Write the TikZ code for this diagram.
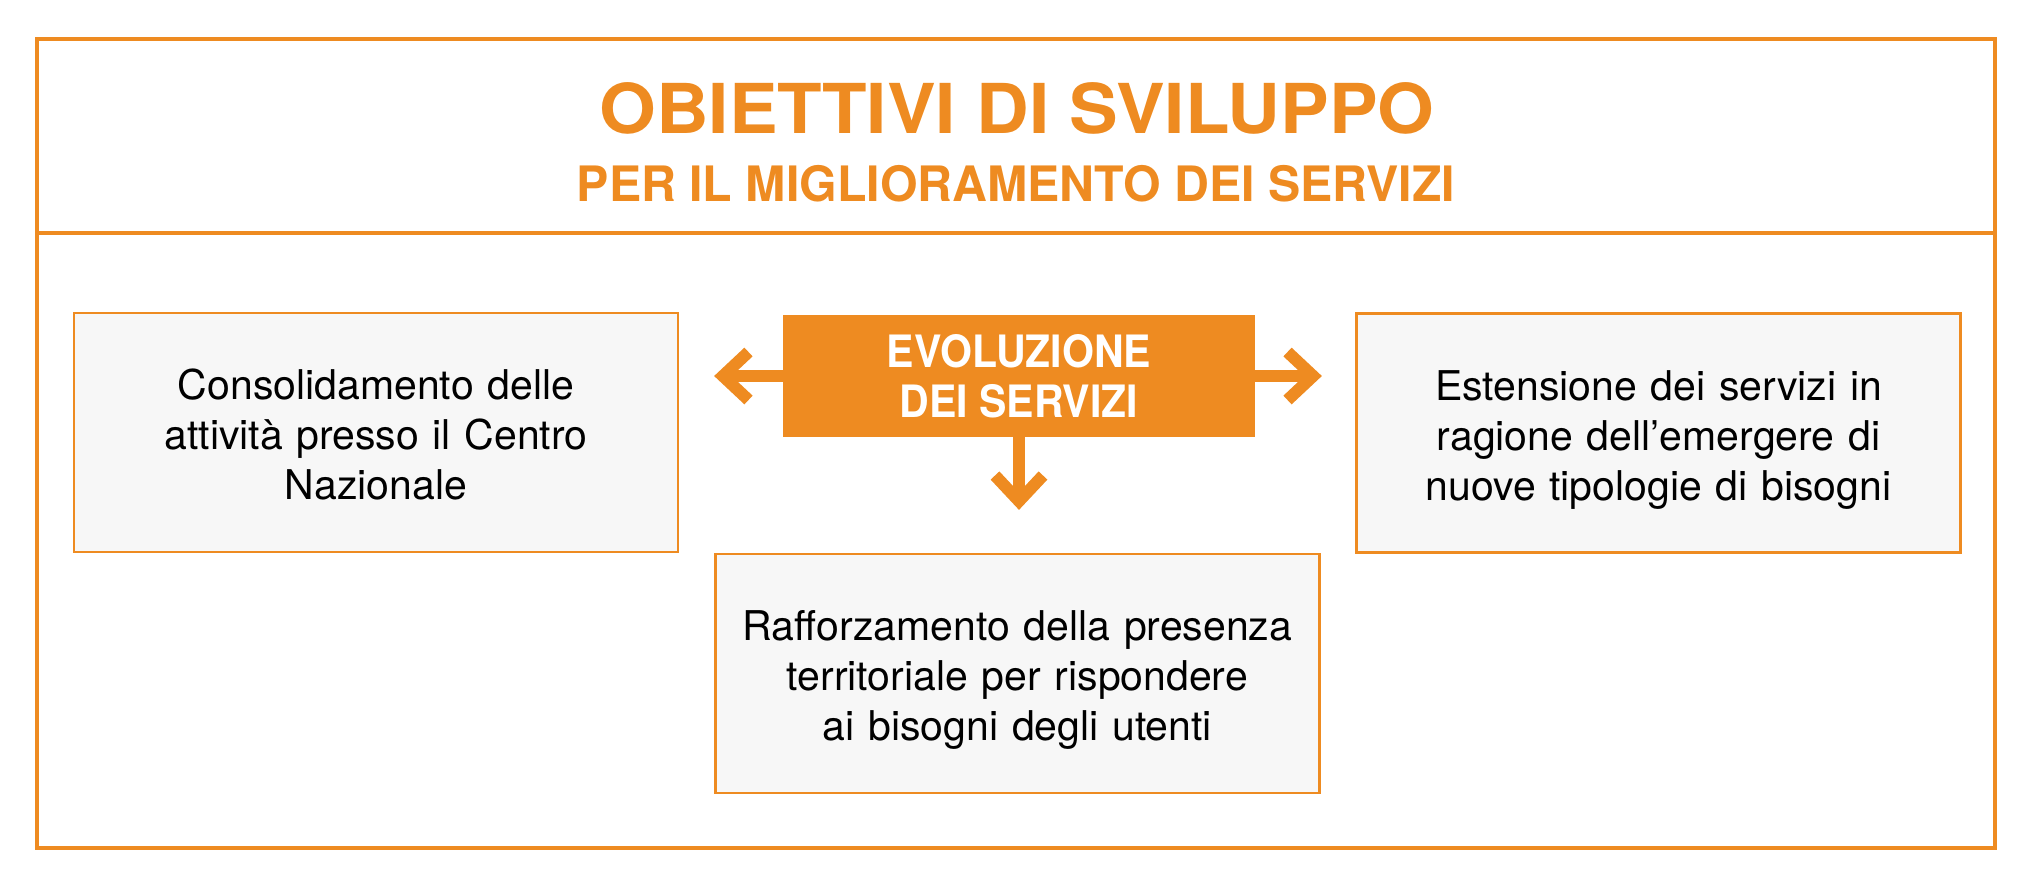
\documentclass[tikz,border=0pt]{standalone}
\usepackage{fontspec}
\setmainfont{TeX Gyre Heros}
\newfontfamily\titlefont[FakeStretch=1.06]{TeX Gyre Heros}
\newfontfamily\subfont[FakeStretch=0.99]{TeX Gyre Heros}
\newfontfamily\evofont[FakeStretch=0.92]{TeX Gyre Heros}
\definecolor{arancio}{HTML}{EE8B21}
\definecolor{grigio}{HTML}{F7F7F7}
\tikzset{
    greybox/.style={
        rectangle,
        draw=arancio, % 橙色边框
        fill=grigio, % 浅灰色填充
        line width=1.2pt,
        minimum width=302pt,
        minimum height=119.5pt,
        text width=290pt,
        align=center,
        inner sep=0,
        text height=15pt,
        text depth=48pt,
        font=\fontsize{20.5}{25}\selectfont
    },
    evobox/.style={
        rectangle,
        fill=arancio, % 橙色填充
        text=white,
        minimum width=236pt,
        minimum height=61pt,
        align=center,
        inner sep=0,
        font=\evofont\bfseries\fontsize{22.3}{25}\selectfont
    },
    shaft/.style={draw=arancio, line width=6.3pt},
    chev/.style={draw=arancio, line width=6pt, line join=miter}
}
\begin{document}
\begin{tikzpicture}[x=0.5pt, y=-0.5pt]
    \useasboundingbox (0,0) rectangle (2035,875);
    % 外框与标题
    \draw[arancio, line width=2pt] (37,38.5) rectangle (1995,848);
    \draw[arancio, line width=2pt] (37,233) -- (1995,233);
    \node[anchor=base, text=arancio, font=\titlefont\bfseries\fontsize{34.4}{40}\selectfont] (titolo) at (1017,133) {OBIETTIVI DI SVILUPPO};
    \node[anchor=base, text=arancio, font=\subfont\bfseries\fontsize{24.4}{30}\selectfont] (sottotitolo) at (1016,201.5) {PER IL MIGLIORAMENTO DEI SERVIZI};
    % 中心与三个方框
    \node[evobox] (evo) at (1019,376) {EVOLUZIONE\\DEI SERVIZI};
    \node[greybox] (cons) at (376,432.5) {Consolidamento delle\\attività presso il Centro\\Nazionale};
    \node[greybox] (est) at (1658.5,433) {Estensione dei servizi in\\ragione dell’emergere di\\nuove tipologie di bisogni};
    \node[greybox] (raff) at (1017.5,673.5) {Rafforzamento della presenza\\territoriale per rispondere\\ai bisogni degli utenti};
    % 箭头
    \coordinate (sx) at (714,376);
    \coordinate (dx) at (1322,376);
    \coordinate (giu) at (1019,510);
    \draw[shaft] (evo.west) -- ([xshift=4.5pt]sx);
    \draw[shaft] (evo.east) -- ([xshift=-4.5pt]dx);
    \draw[shaft] (evo.south) -- ([yshift=4.5pt]giu);
    \draw[chev] (sx) ++(34.5,-24) -- ++(-25.6,24) -- ++(25.6,24);
    \draw[chev] (dx) ++(-34.5,-24) -- ++(25.6,24) -- ++(-25.6,24);
    \draw[chev] (giu) ++(-24,-34.5) -- ++(24,25.6) -- ++(24,-25.6);
\end{tikzpicture}
\end{document}
